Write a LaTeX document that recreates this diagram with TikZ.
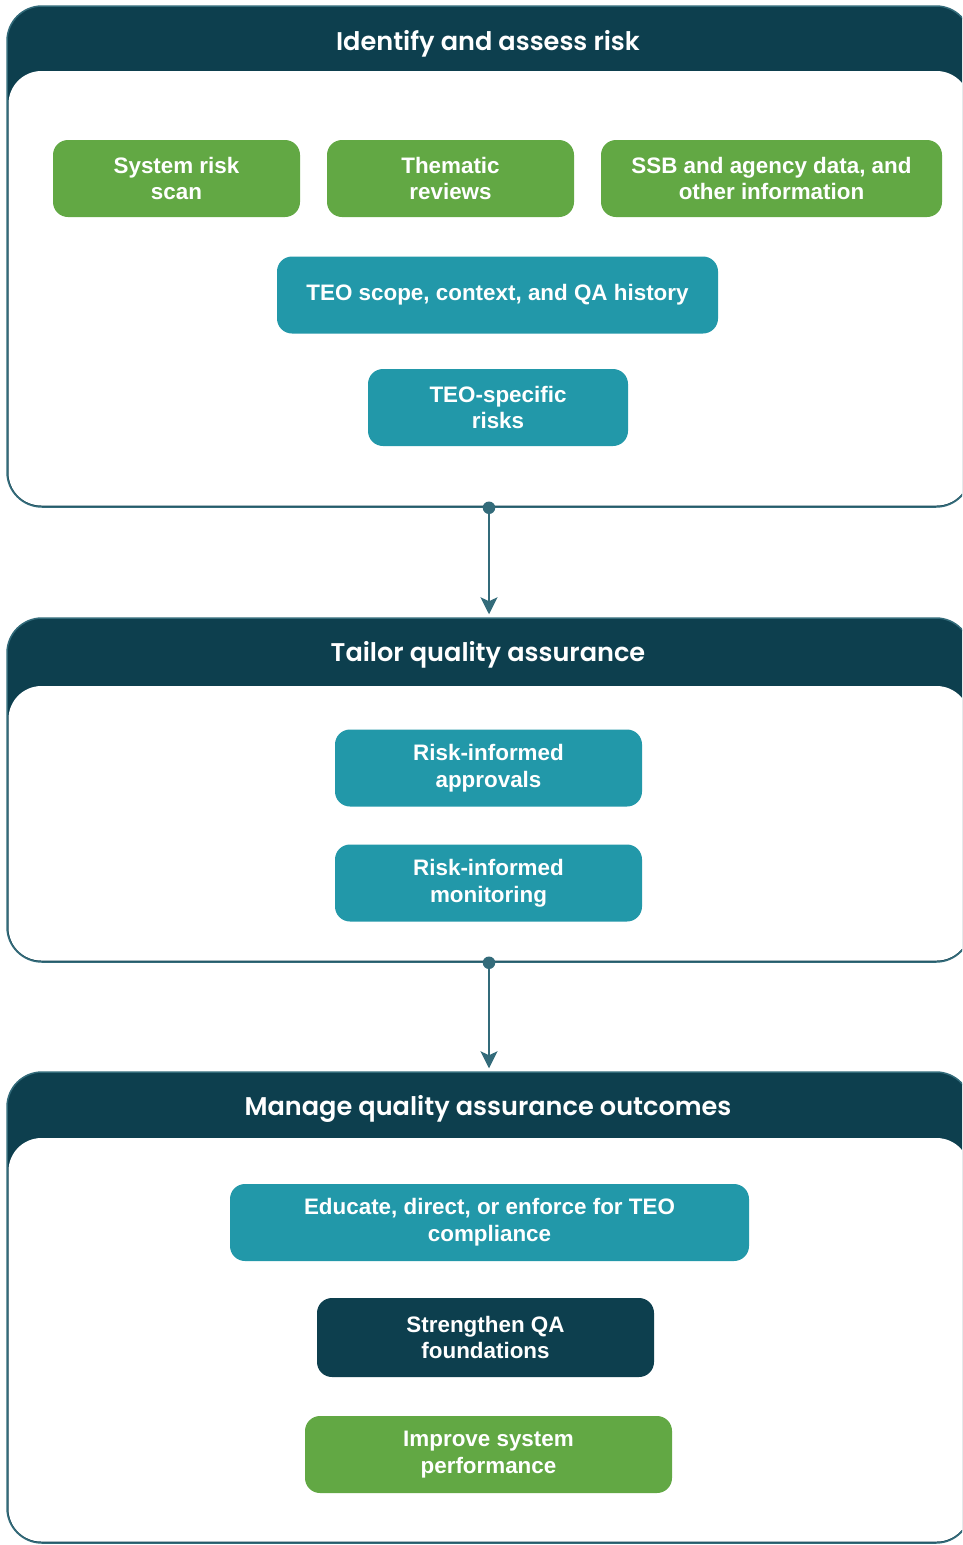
\documentclass[tikz,border=0pt]{standalone}
\usepackage{fontspec}
\setmainfont{Liberation Sans}
\newfontfamily\headfont{Poppins}[UprightFont=* SemiBold]
\usetikzlibrary{arrows.meta}

\definecolor{navy}{HTML}{0D3F4E}
\definecolor{leaf}{HTML}{62A844}
\definecolor{lagoon}{HTML}{2298A9}
\definecolor{rim}{HTML}{336B7A}

\tikzset{
  panel/.style={fill=navy, draw=rim, line width=1.5pt, rounded corners=35pt,
                minimum width=964pt, inner sep=0pt},
  panelbody/.style={fill=white, rounded corners=33pt},
  head/.style={text=white, font=\headfont\fontsize{25.6}{30}\selectfont,
               anchor=base, inner sep=0pt},
  card/.style={rounded corners=15pt, text=white, align=center,
               font=\bfseries\fontsize{22.4}{26.8}\selectfont,
               minimum height=77pt, inner sep=0pt},
  greencard/.style={card, fill=leaf},
  tealcard/.style={card, fill=lagoon},
  navycard/.style={card, fill=navy},
  joint/.style={circle, fill=rim, minimum size=12.5pt, inner sep=0pt},
  flow/.style={draw=rim, line width=1.5pt, shorten >=3pt,
               -{Stealth[length=17pt,width=17pt,inset=4pt]}},
}

\begin{document}
\begin{tikzpicture}[x=1pt,y=-1pt]
  \useasboundingbox (0,0) rectangle (962,1545);
  \clip (0,0) rectangle (962,1545);

  % three stage panels: dark header band over a white body
  \node[panel, minimum height=501pt] (p1) at (489,256.5) {};
  \fill[panelbody] (8.5,71) rectangle (969.5,505.5);
  \node[head] (h1) at (488,50) {Identify and assess risk};

  \node[panel, minimum height=344pt] (p2) at (489,790) {};
  \fill[panelbody] (8.5,686) rectangle (969.5,960.5);
  \node[head] (h2) at (488,661) {Tailor quality assurance};

  \node[panel, minimum height=471pt] (p3) at (489,1307.5) {};
  \fill[panelbody] (8.5,1138) rectangle (969.5,1541.5);
  \node[head] (h3) at (488,1115) {Manage quality assurance outcomes};

  % stage 1
  \node[greencard, minimum width=247pt] (srs) at (176.5,178.5) {System risk\\scan};
  \node[greencard, minimum width=247pt] (thm) at (450.5,178.5) {Thematic\\reviews};
  \node[greencard, minimum width=341pt] (ssb) at (771.5,178.5) {SSB and agency data, and\\other information};
  \node[tealcard, minimum width=441pt] (teo) at (497.5,295) {TEO scope, context, and QA history};
  \node[tealcard, minimum width=260pt] (tsr) at (498,407.5) {TEO-specific\\risks};

  % stage 2
  \node[tealcard, minimum width=307pt] (ria) at (488.5,768) {Risk-informed\\approvals};
  \node[tealcard, minimum width=307pt] (rim) at (488.5,883) {Risk-informed\\monitoring};

  % stage 3
  \node[tealcard, minimum width=519pt] (edu) at (489.5,1222.5) {Educate, direct, or enforce for TEO\\compliance};
  \node[navycard, minimum width=337pt, minimum height=79pt] (sqa) at (485.5,1337.5) {Strengthen QA\\foundations};
  \node[greencard, minimum width=367pt] (isp) at (488.5,1454.5) {Improve system\\performance};

  % connectors between stages
  \node[joint] (j1) at (p1.south) {};
  \draw[flow] (j1.center) -- (p2.north);
  \node[joint] (j2) at (p2.south) {};
  \draw[flow] (j2.center) -- (p3.north);
\end{tikzpicture}
\end{document}
